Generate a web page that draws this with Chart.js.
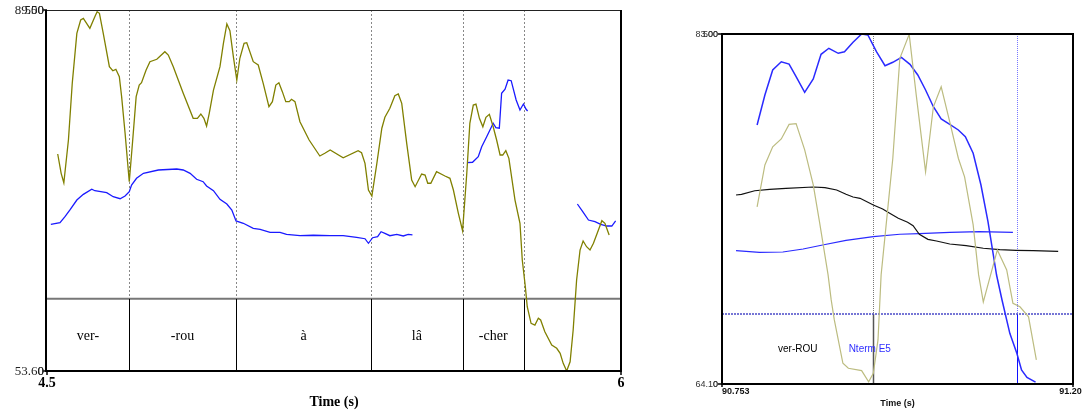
<!DOCTYPE html>
<html>
<head>
<meta charset="utf-8">
<script src="https://cdn.jsdelivr.net/npm/chart.js@4.4.1/dist/chart.umd.min.js"></script>
<style>
body{margin:0;background:#fff;width:1082px;height:412px;overflow:hidden;position:relative}
canvas{position:absolute;top:0}
</style>
</head>
<body>
<canvas id="graf1" width="660" height="412" style="left:0"></canvas>
<canvas id="graf2" width="422" height="412" style="left:660px"></canvas>
<script>
// ---------------- panel izquierdo: 4.5 - 6 s
var tiempoInt=[4.528,4.537,4.544,4.556,4.566,4.578,4.588,4.595,4.612,4.625,4.631,4.637,4.647,4.663,4.672,4.680,4.689,4.695,4.704,4.715,4.724,4.733,4.741,4.747,4.759,4.769,4.787,4.808,4.817,4.830,4.856,4.882,4.893,4.902,4.910,4.917,4.924,4.935,4.952,4.961,4.970,4.978,4.987,4.996,5.004,5.015,5.022,5.039,5.052,5.065,5.080,5.089,5.098,5.106,5.115,5.124,5.133,5.139,5.148,5.161,5.185,5.213,5.226,5.240,5.274,5.313,5.322,5.331,5.340,5.349,5.362,5.375,5.383,5.396,5.409,5.418,5.427,5.440,5.453,5.462,5.479,5.488,5.495,5.503,5.518,5.540,5.553,5.562,5.575,5.586,5.597,5.605,5.614,5.621,5.630,5.639,5.647,5.656,5.666,5.675,5.684,5.691,5.699,5.707,5.723,5.736,5.742,5.750,5.755,5.765,5.775,5.784,5.790,5.801,5.819,5.832,5.841,5.849,5.858,5.867,5.875,5.884,5.893,5.901,5.910,5.919,5.928,5.941,5.950,5.958,5.969]
var intensidad=[75.18,73.26,72.32,76.57,82.21,87.18,88.51,88.67,87.68,88.83,89.33,89.17,87.18,83.86,83.46,83.60,82.87,80.88,77.27,72.42,76.57,80.88,82.04,82.27,83.53,84.36,84.60,85.35,85.02,83.86,81.22,78.73,78.73,79.16,78.73,77.96,79.23,81.54,83.86,86.19,88.11,87.44,84.86,82.54,84.70,86.19,86.25,84.36,84.03,82.21,79.88,80.38,82.04,82.27,81.38,80.38,80.38,80.62,80.38,78.39,76.57,74.98,75.25,75.58,74.81,75.51,75.31,74.25,71.60,71.00,74.25,77.74,78.83,79.72,80.98,81.15,80.22,76.24,72.59,71.93,73.19,73.09,72.27,72.27,73.42,72.99,72.76,71.60,69.28,67.55,73.26,78.23,80.05,80.15,78.73,77.89,78.83,79.13,77.89,76.57,75.08,75.08,75.51,74.75,70.60,68.29,64.64,61.98,59.99,58.34,58.17,58.84,58.67,57.51,56.18,55.86,55.36,54.36,53.60,54.52,57.68,62.65,65.63,66.53,65.96,65.63,66.30,67.62,68.55,68.29,67.12]
var tiempoF0=[4.510,4.534,4.547,4.560,4.578,4.595,4.617,4.625,4.656,4.673,4.691,4.704,4.715,4.721,4.734,4.752,4.791,4.839,4.856,4.874,4.891,4.908,4.917,4.935,4.952,4.970,4.983,4.994,5.013,5.039,5.057,5.083,5.109,5.126,5.161,5.196,5.240,5.274,5.309,5.331,5.340,5.351,5.364,5.373,5.383,5.396,5.414,5.431,5.444,5.455,5.52,5.599,5.612,5.627,5.636,5.649,5.666,5.673,5.682,5.688,5.697,5.705,5.713,5.726,5.736,5.745,5.752,5.756,5.82,5.886,5.900,5.915,5.932,5.947,5.963,5.976,5.986]
var f0=[203.2,205.4,213.7,223.0,236.8,244.7,251.7,249.7,247.0,241.4,238.6,242.4,248.3,257.6,266.9,273.8,278.4,279.8,278.4,273.8,265.5,262.2,256.2,249.7,237.8,231.3,223.0,207.8,204.6,197.6,196.3,192.1,192.1,189.3,187.4,188.0,187.4,187.4,185.2,183.2,176.9,184.6,186.0,192.9,190.7,187.4,189.3,187.0,189.3,188.4,null,288.5,289.1,296.8,310.7,324.5,343.1,337.0,336.2,384.6,390.2,403.0,402.1,375.3,361.5,369.8,362.5,360.1,null,231.3,220.6,209.1,206.8,203.2,200.8,200.8,207.8]
var limites=[4.714,4.994,5.347,5.586,5.746]
var etiquetas=['ver-','-rou','à','lâ','-cher']
var rangoT=[4.5,6]
var rangoDb=[53.60,89.50]
var rangoHz=[0,500]

// ---------------- panel derecho: 90.753 - 91.203 s
var tiempoF0b=[90.798,90.808,90.818,90.829,90.839,90.848,90.859,90.870,90.880,90.890,90.902,90.910,90.921,90.932,90.940,90.951,90.962,90.972,90.983,90.994,91.004,91.014,91.024,91.034,91.045,91.056,91.065,91.075,91.085,91.094,91.105,91.112,91.122,91.131,91.137,91.144,91.155]
var f0b=[370.0,412.9,448.6,460.4,457.1,439.0,416.7,435.7,471.0,479.6,472.4,474.7,488.1,500.0,498.6,474.7,454.7,459.6,466.7,456.7,441.4,420.0,396.1,378.6,371.0,362.9,353.3,329.6,284.3,231.9,155.7,120.0,72.4,43.9,20.0,9.3,2.6]
var tiempoIntB=[90.798,90.808,90.818,90.829,90.839,90.848,90.859,90.870,90.878,90.889,90.893,90.897,90.908,90.915,90.932,90.941,90.947,90.953,90.957,90.966,90.972,90.981,90.993,91.002,91.014,91.024,91.034,91.045,91.056,91.064,91.075,91.082,91.088,91.106,91.118,91.126,91.135,91.146,91.156]
var intB=[73.67,75.93,76.91,77.33,78.12,78.16,76.74,74.85,72.86,69.99,68.64,67.56,65.22,64.95,64.82,64.22,64.68,66.48,69.99,73.77,76.29,81.69,82.98,79.71,75.56,79.07,80.15,78.26,76.29,75.29,72.69,69.99,68.53,71.34,70.26,68.46,68.27,67.73,65.40]
var tiempoNegro=[90.771,90.778,90.795,90.814,90.835,90.870,90.885,90.900,90.912,90.921,90.930,90.947,90.959,90.968,90.979,90.991,90.998,91.006,91.017,91.028,91.045,91.066,91.088,91.109,91.130,91.152,91.184]
var negro=[270.0,271.0,276.1,278.1,279.6,281.4,280.4,277.1,271.0,267.1,265.3,255.7,250.0,243.9,236.7,231.0,226.1,213.9,206.7,204.3,200.0,197.6,193.9,191.9,191.0,190.4,189.6]
var tiempoAzul2=[90.771,90.801,90.831,90.857,90.882,90.912,90.947,90.981,91.006,91.045,91.083,91.126]
var azul2=[190.4,188.1,188.6,192.9,198.6,205.3,210.4,213.9,214.7,216.7,217.6,216.7]
var limNegro=90.946
var limAzul=91.131
var etiquetasB=['ver-ROU','Nterm E5']
var rangoTb=[90.753,91.203]
var rangoDbB=[64.10,83.00]

function puntos(ts,vs){ return ts.map(function(t,i){ return {x:t,y:vs[i]} }) }

function linea(ctx,x1,y1,x2,y2){ ctx.beginPath(); ctx.moveTo(x1,y1); ctx.lineTo(x2,y2); ctx.stroke() }

//-------------------------------------------------------------------------------------------------
var capa1={
    id:'capa1',
    beforeDatasetsDraw:function(chart){
        var ctx=chart.ctx, a=chart.chartArea, sx=chart.scales.x
        var yTier=a.bottom-(a.bottom-a.top)*0.2
        ctx.save()
        ctx.strokeStyle='#777'; ctx.lineWidth=2
        linea(ctx,a.left,yTier,a.right,yTier)
        limites.forEach(function(t){
            var px=Math.round(sx.getPixelForValue(t))+0.5
            ctx.lineWidth=1
            ctx.setLineDash([2,2]); ctx.strokeStyle='#888'
            linea(ctx,px,a.top,px,yTier)
            ctx.setLineDash([]); ctx.strokeStyle='#000'
            linea(ctx,px,yTier,px,a.bottom)
        })
        ctx.font='14px "Liberation Serif"'; ctx.fillStyle='#000'
        ctx.textAlign='center'; ctx.textBaseline='middle'
        var bordes=[rangoT[0]].concat(limites)
        etiquetas.forEach(function(e,i){
            var c=(sx.getPixelForValue(bordes[i])+sx.getPixelForValue(bordes[i+1]))/2
            ctx.fillText(e,c,(yTier+a.bottom)/2+1)
        })
        ctx.restore()
    },
    afterDraw:function(chart){
        var ctx=chart.ctx, a=chart.chartArea, sx=chart.scales.x, sy=chart.scales.y, sh=chart.scales.y2
        ctx.save()
        ctx.strokeStyle='#222'; ctx.lineWidth=1
        linea(ctx,a.left,a.top+0.5,a.right,a.top+0.5)
        ctx.strokeStyle='#000'; ctx.lineWidth=2
        linea(ctx,a.left-1,a.top,a.left-1,a.bottom+1)
        linea(ctx,a.left-2,a.bottom,a.right+1,a.bottom)
        linea(ctx,a.right,a.top,a.right,a.bottom+1)
        ctx.lineWidth=1.5
        rangoDb.forEach(function(v){ var py=sy.getPixelForValue(v); linea(ctx,a.left-4,py,a.left,py) })
        rangoT.forEach(function(v){ var px=sx.getPixelForValue(v); linea(ctx,px,a.bottom,px,a.bottom+4) })
        ctx.fillStyle='#222'; ctx.font='13px "Liberation Serif"'
        ctx.textAlign='right'; ctx.textBaseline='middle'
        rangoDb.forEach(function(v){ ctx.fillText(v.toFixed(2),a.left-3,sy.getPixelForValue(v)+1) })
        rangoHz.forEach(function(v){ ctx.fillText(String(v),a.left-3,sh.getPixelForValue(v)+1) })
        ctx.fillStyle='#000'; ctx.font='bold 14px "Liberation Serif"'; ctx.textAlign='center'
        rangoT.forEach(function(v){ ctx.fillText(String(v),sx.getPixelForValue(v),a.bottom+12) })
        ctx.fillText('Time (s)',(a.left+a.right)/2,a.bottom+31)
        ctx.restore()
    }
}

var capa2={
    id:'capa2',
    beforeDatasetsDraw:function(chart){
        var ctx=chart.ctx, a=chart.chartArea, sx=chart.scales.x
        var yTier=a.bottom-(a.bottom-a.top)*0.2
        var pn=Math.round(sx.getPixelForValue(limNegro))+0.5
        var pa=Math.round(sx.getPixelForValue(limAzul))+0.5
        ctx.save()
        ctx.lineWidth=1
        ctx.setLineDash([1,1])
        ctx.strokeStyle='#777'; linea(ctx,pn,a.top,pn,yTier)
        ctx.strokeStyle='#7777ff'; linea(ctx,pa,a.top,pa,yTier)
        ctx.setLineDash([])
        ctx.strokeStyle='#555'; ctx.lineWidth=1.5; linea(ctx,pn,yTier,pn,a.bottom)
        ctx.strokeStyle='#1010ff'; ctx.lineWidth=1; linea(ctx,pa,yTier,pa,a.bottom)
        ctx.setLineDash([2,1]); ctx.strokeStyle='#4a4ac8'; ctx.lineWidth=1.5
        linea(ctx,a.left,yTier,a.right,yTier)
        ctx.setLineDash([])
        ctx.font='10px "Liberation Sans"'; ctx.textAlign='center'; ctx.textBaseline='middle'
        var yt=(yTier+a.bottom)/2
        ctx.fillStyle='#000'; ctx.fillText(etiquetasB[0],(a.left+pn)/2,yt)
        ctx.fillStyle='#3030ff'; ctx.fillText(etiquetasB[1],(a.left+pa)/2,yt)
        ctx.restore()
    },
    afterDraw:function(chart){
        var ctx=chart.ctx, a=chart.chartArea, sx=chart.scales.x, sy=chart.scales.y, sh=chart.scales.y2
        ctx.save()
        ctx.strokeStyle='#000'; ctx.lineWidth=2
        ctx.strokeRect(a.left,a.top,a.right-a.left,a.bottom-a.top)
        ctx.lineWidth=1.5
        rangoDbB.forEach(function(v){ var py=sy.getPixelForValue(v); linea(ctx,a.left-4,py,a.left,py) })
        rangoTb.forEach(function(v){ var px=sx.getPixelForValue(v); linea(ctx,px,a.bottom,px,a.bottom+3) })
        ctx.fillStyle='#333'; ctx.font='9px "Liberation Sans"'
        ctx.textAlign='right'; ctx.textBaseline='middle'
        rangoDbB.forEach(function(v){ ctx.fillText(v.toFixed(2),a.left-4,sy.getPixelForValue(v)+1) })
        rangoHz.forEach(function(v){ ctx.fillText(String(v),a.left-4,sh.getPixelForValue(v)+1) })
        ctx.fillStyle='#111'; ctx.font='bold 9px "Liberation Sans"'
        ctx.textAlign='left'
        ctx.fillText(rangoTb[0].toFixed(3),sx.getPixelForValue(rangoTb[0]),a.bottom+8)
        ctx.textAlign='center'
        ctx.fillText(rangoTb[1].toFixed(3),sx.getPixelForValue(rangoTb[1]),a.bottom+8)
        ctx.fillText('Time (s)',(a.left+a.right)/2,a.bottom+20)
        ctx.restore()
    }
}

function opciones(t,db,pad){
    return {
        responsive:false, animation:false, devicePixelRatio:1,
        layout:{padding:pad},
        plugins:{legend:{display:false},tooltip:{enabled:false}},
        elements:{point:{radius:0},line:{tension:0}},
        scales:{
            x:{type:'linear',min:t[0],max:t[1],display:false},
            y:{min:db[0],max:db[1],display:false},
            y2:{min:rangoHz[0],max:rangoHz[1],display:false}
        }
    }
}

function inicio(){
    var ctx1=document.getElementById('graf1').getContext('2d')
    var ctx2=document.getElementById('graf2').getContext('2d')

    new Chart(ctx1,{
        type:'line',
        data:{datasets:[
            {label:'Intensity',data:puntos(tiempoInt,intensidad),borderColor:'#808000',borderWidth:1.3,yAxisID:'y'},
            {label:'Pitch',data:puntos(tiempoF0,f0),borderColor:'#1a1aff',borderWidth:1.3,yAxisID:'y2',spanGaps:false}
        ]},
        options:opciones(rangoT,rangoDb,{left:47,top:10,right:39,bottom:41}),
        plugins:[capa1]
    })

    new Chart(ctx2,{
        type:'line',
        data:{datasets:[
            {label:'Intensity',data:puntos(tiempoIntB,intB),borderColor:'#bcbc80',borderWidth:1.2,yAxisID:'y'},
            {label:'Pitch',data:puntos(tiempoF0b,f0b),borderColor:'#2a2aff',borderWidth:1.5,yAxisID:'y2'},
            {label:'Smooth',data:puntos(tiempoNegro,negro),borderColor:'#111',borderWidth:1.2,yAxisID:'y2'},
            {label:'Smooth 2',data:puntos(tiempoAzul2,azul2),borderColor:'#2a2aff',borderWidth:1.2,yAxisID:'y2'}
        ]},
        options:opciones(rangoTb,rangoDbB,{left:62,top:34,right:9,bottom:28}),
        plugins:[capa2]
    })
}
window.onload=inicio
</script>
</body>
</html>
